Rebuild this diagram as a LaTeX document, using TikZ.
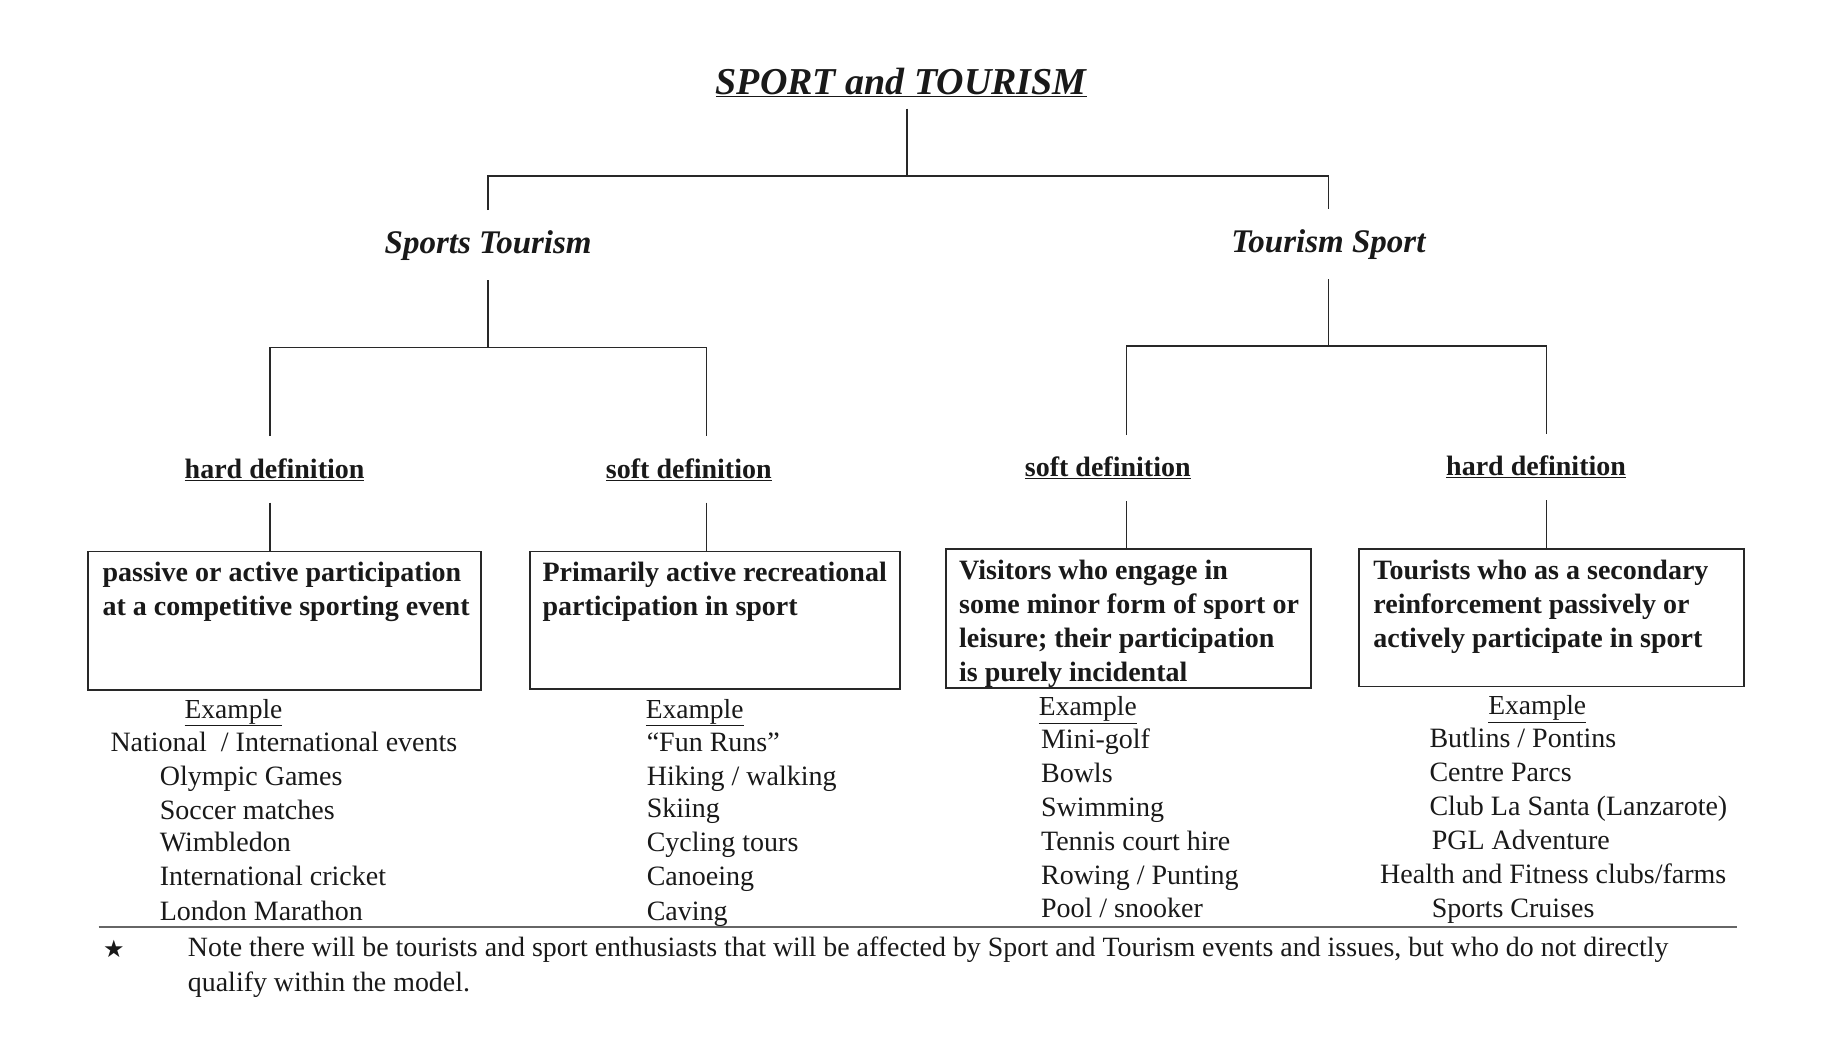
\documentclass[tikz,border=0pt]{standalone}
\usepackage{fontspec}
\setmainfont{Liberation Serif}
\newfontfamily\symfont{DejaVu Sans}
\usetikzlibrary{calc}
\definecolor{linecol}{RGB}{40,40,40}
\definecolor{inkcol}{RGB}{25,25,25}
\begin{document}
\begin{tikzpicture}[x=1.1735pt,y=-1.1735pt,
  every node/.style={text=inkcol},
  ttl/.style={font=\fontsize{38}{44}\selectfont\bfseries\itshape, inner xsep=0pt, inner ysep=12pt},
  lvl/.style={font=\fontsize{33}{38}\selectfont\bfseries\itshape, inner xsep=0pt, inner ysep=20pt},
  defn/.style={font=\fontsize{28}{32}\selectfont\bfseries, inner xsep=0pt, inner ysep=22pt},
  box/.style={draw=linecol, line width=1.8pt, inner sep=0pt},
  boxtext/.style={font=\fontsize{28}{34}\selectfont\bfseries, align=left, inner sep=0pt, anchor=north west},
  item/.style={font=\fontsize{28}{30}\selectfont, inner sep=0pt, anchor=base west},
  exmp/.style={font=\fontsize{27.5}{30}\selectfont, inner sep=0pt, anchor=base},
  conn/.style={draw=linecol, line width=1.5pt},
  notetext/.style={font=\fontsize{27.9}{30}\selectfont, inner sep=0pt, anchor=base west}
]
\useasboundingbox (0,0) rectangle (1568,893);

% column positions of the vertical connectors
\coordinate (c1) at (230,0);
\coordinate (c2) at (602,0);
\coordinate (c3) at (960,0);
\coordinate (c4) at (1318,0);
\coordinate (j0) at (773,150);
\coordinate (j1) at (416,296);
\coordinate (j2) at (1132,295);

% title and first level
\node[ttl] (title) at (768,70) {\underline{SPORT and TOURISM}};
\node[lvl] (st) at (416,209) {Sports Tourism};
\node[lvl] (ts) at (1132,208) {Tourism Sport};

% definition labels
\node[defn] (hd1) at (234,400) {\underline{hard definition}};
\node[defn] (sd1) at (587,400) {\underline{soft definition}};
\node[defn] (sd2) at (944,399) {\underline{soft definition}};
\node[defn] (hd2) at (1309,398) {\underline{hard definition}};

% boxes
\node[box, minimum width=393.1pt, minimum height=138.5pt] (b1) at (242.5,529) {};
\node[box, minimum width=369.7pt, minimum height=137.3pt] (b2) at (609.5,528.5) {};
\node[box, minimum width=365.0pt, minimum height=138.5pt] (b3) at (961.5,527) {};
\node[box, minimum width=384.9pt, minimum height=137.3pt] (b4) at (1322,526.5) {};

\node[boxtext] (t1) at ($(b1.north west)+(13,9.5)$) {passive or active participation\\at a competitive sporting event};
\node[boxtext] (t2) at ($(b2.north west)+(11,9.5)$) {Primarily active recreational\\participation in sport};
\node[boxtext] (t3) at ($(b3.north west)+(12,9.5)$) {Visitors who engage in\\some minor form of sport or\\leisure; their participation\\is purely incidental};
\node[boxtext] (t4) at ($(b4.north west)+(13,9.5)$) {Tourists who as a secondary\\reinforcement passively or\\actively participate in sport};

% connectors
\draw[conn] (title.south -| j0) -- (j0);
\draw[conn] (st.north) |- (j0) -| (ts.north);
\draw[conn] (st.south) -- (j1);
\draw[conn] (c1 |- hd1.north) |- (j1) -| (c2 |- sd1.north);
\draw[conn] (ts.south) -- (j2);
\draw[conn] (c3 |- sd2.north) |- (j2) -| (c4 |- hd2.north);
\draw[conn] (c1 |- hd1.south) -- (c1 |- b1.north);
\draw[conn] (c2 |- sd1.south) -- (c2 |- b2.north);
\draw[conn] (c3 |- sd2.south) -- (c3 |- b3.north);
\draw[conn] (c4 |- hd2.south) -- (c4 |- b4.north);

% examples column 1
\node[exmp] (ex1) at (199,612) {\underline{Example}};
\node[item] (l11) at (94,640) {National\ \ / International events};
\node[item] (l12) at (136,669) {Olympic Games};
\node[item] (l13) at (136,698) {Soccer matches};
\node[item] (l14) at (136,726) {Wimbledon};
\node[item] (l15) at (136,755) {International cricket};
\node[item] (l16) at (136,784) {London Marathon};

% examples column 2
\node[exmp] (ex2) at (592,612) {\underline{Example}};
\node[item] (l21) at (551,640) {“Fun Runs”};
\node[item] (l22) at (551,669) {Hiking / walking};
\node[item] (l23) at (551,697) {Skiing};
\node[item] (l24) at (551,726) {Cycling tours};
\node[item] (l25) at (551,755) {Canoeing};
\node[item] (l26) at (551,784) {Caving};

% examples column 3
\node[exmp] (ex3) at (927,610) {\underline{Example}};
\node[item] (l31) at (887,638) {Mini-golf};
\node[item] (l32) at (887,667) {Bowls};
\node[item] (l33) at (887,696) {Swimming};
\node[item] (l34) at (887,725) {Tennis court hire};
\node[item] (l35) at (887,754) {Rowing / Punting};
\node[item] (l36) at (887,782) {Pool / snooker};

% examples column 4
\node[exmp] (ex4) at (1310,609) {\underline{Example}};
\node[item] (l41) at (1218,637) {Butlins / Pontins};
\node[item] (l42) at (1218,666) {Centre Parcs};
\node[item] (l43) at (1218,695) {Club La Santa (Lanzarote)};
\node[item] (l44) at (1220,724) {PGL Adventure};
\node[item] (l45) at (1176,753) {Health and Fitness clubs/farms};
\node[item] (l46) at (1220,782) {Sports Cruises};

% bottom rule and note
\draw[draw=black!60, line width=2.4pt] (84,790) -- (1480,790);
\node[inner sep=0pt, font=\symfont\fontsize{24}{26}\selectfont] (star) at (97,809) {★};
\node[notetext] (n1) at (160,815) {Note there will be tourists and sport enthusiasts that will be affected by Sport and Tourism events and issues, but who do not directly};
\node[notetext] (n2) at (160,845) {qualify within the model.};
\end{tikzpicture}
\end{document}
